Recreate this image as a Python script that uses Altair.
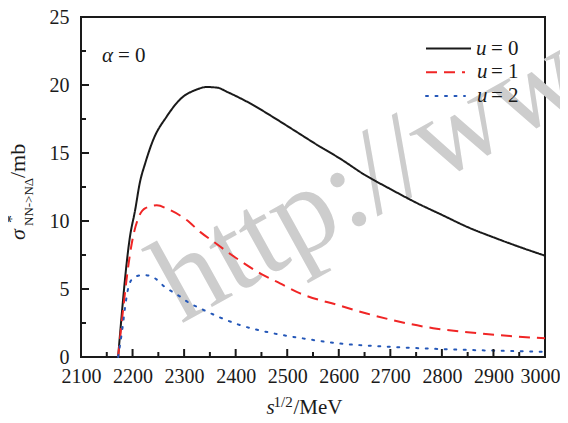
import altair as alt
import pandas as pd

# ---- data ----
x_u0 = [2172, 2195, 2205, 2214, 2225, 2240, 2266, 2298, 2320, 2344, 2365, 2383, 2428, 2470,
        2512, 2560, 2602, 2650, 2700, 2750, 2800, 2850, 2900, 2950, 3000]
y_u0 = [0, 8.85, 10.8, 12.8, 14.3, 15.96, 17.67, 19.14, 19.6, 19.85, 19.8, 19.5, 18.65, 17.7,
        16.7, 15.55, 14.6, 13.4, 12.35, 11.35, 10.45, 9.55, 8.8, 8.1, 7.45]

x_u1 = [2172, 2201, 2211, 2225, 2247, 2270, 2305, 2331, 2357, 2400, 2450, 2486, 2525, 2600,
        2654, 2700, 2783, 2850, 2913, 3000]
y_u1 = [0, 8.85, 10.2, 10.95, 11.15, 10.85, 10.07, 9.2, 8.48, 7.3, 6.1, 5.42, 4.68, 3.8,
        3.2, 2.75, 2.12, 1.82, 1.6, 1.37]

x_u2 = [2172, 2180, 2187, 2194, 2205, 2222, 2243, 2261, 2290, 2311, 2331, 2370, 2402, 2473,
        2525, 2600, 2700, 2800, 2900, 3000]
y_u2 = [0, 2.0, 4.07, 5.4, 5.9, 6.03, 5.8, 5.2, 4.5, 3.95, 3.58, 2.9, 2.43, 1.74,
        1.4, 1.0, 0.75, 0.58, 0.47, 0.38]

series_names = ["u = 0", "u = 1", "u = 2"]
series_values = ["0", "1", "2"]
series_colors = ["#1a1a1a", "#f02525", "#2457b8"]
series_dash = [[1, 0], [11, 7], [2, 7.5]]

x_major = list(range(2100, 3001, 100))
x_minor = list(range(2150, 3000, 100))
y_major = [0, 5, 10, 15, 20, 25]
y_minor = [2.5, 7.5, 12.5, 17.5, 22.5]

FONT = "Liberation Serif, Times New Roman, serif"
W, H = 464, 340

xs = alt.Scale(domain=[2100, 3000], nice=False, zero=False)
ys = alt.Scale(domain=[0, 25], nice=False)

rows = []
for name, xv, yv in [(series_names[0], x_u0, y_u0), (series_names[1], x_u1, y_u1),
                     (series_names[2], x_u2, y_u2)]:
    for a, b in zip(xv, yv):
        rows.append({"series": name, "x": a, "y": b})
df = pd.DataFrame(rows)


def txt(t, x, y, size, style="normal", angle=0, color="#1a1a1a"):
    kw = dict(font=FONT, fontSize=size, align="left", baseline="alphabetic", color=color)
    if style != "normal":
        kw["fontStyle"] = style
    if angle:
        kw["angle"] = angle
    return alt.Chart(pd.DataFrame({"t": [t]})).mark_text(**kw).encode(
        x=alt.value(x), y=alt.value(y), text="t:N")


layers = []

# watermark
layers.append(txt("http://www", 100, 307, 122, "normal", 331, "#cdcdcd"))

# axes (labels only; ticks drawn inward below)
base = alt.Chart(df).mark_point(opacity=0).encode(
    x=alt.X("x:Q", scale=xs, axis=alt.Axis(
        values=x_major, format="d", title=None, ticks=False, domain=False, grid=False,
        labelFont=FONT, labelFontSize=20, labelColor="#1a1a1a", labelPadding=9,
        labelFlush=False,
        labelOffset={"condition": {"test": "datum.value >= 3000", "value": -5}, "value": 0})),
    y=alt.Y("y:Q", scale=ys, axis=alt.Axis(
        values=y_major, format="d", title=None, ticks=False, domain=False, grid=False,
        labelFont=FONT, labelFontSize=20, labelColor="#1a1a1a", labelPadding=12,
        labelFlush=False)),
)
layers.append(base)

# curves
for name, col, dash in zip(series_names, series_colors, series_dash):
    layers.append(
        alt.Chart(df[df.series == name]).mark_line(
            color=col, strokeDash=dash, strokeWidth=2, interpolate="monotone",
            strokeCap="round" if name == "u = 2" else "butt"
        ).encode(x=alt.X("x:Q", scale=xs), y=alt.Y("y:Q", scale=ys))
    )

# inward ticks
layers.append(alt.Chart(pd.DataFrame({"v": x_major})).mark_rule(color="#1a1a1a", strokeWidth=2)
              .encode(x=alt.X("v:Q", scale=xs), y=alt.value(H), y2=alt.value(H - 8)))
layers.append(alt.Chart(pd.DataFrame({"v": x_minor})).mark_rule(color="#1a1a1a", strokeWidth=2)
              .encode(x=alt.X("v:Q", scale=xs), y=alt.value(H), y2=alt.value(H - 5)))
layers.append(alt.Chart(pd.DataFrame({"v": y_major})).mark_rule(color="#1a1a1a", strokeWidth=2)
              .encode(y=alt.Y("v:Q", scale=ys), x=alt.value(0), x2=alt.value(8)))
layers.append(alt.Chart(pd.DataFrame({"v": y_minor})).mark_rule(color="#1a1a1a", strokeWidth=2)
              .encode(y=alt.Y("v:Q", scale=ys), x=alt.value(0), x2=alt.value(5)))

# legend
for i, (val, col, dash) in enumerate(zip(series_values, series_colors, series_dash)):
    ly = 31.5 + 23.8 * i
    x2 = 390 if i == 0 else 384
    layers.append(alt.Chart(pd.DataFrame({"k": [val]})).mark_rule(
        color=col, strokeDash=dash, strokeWidth=2, strokeCap="round" if i == 2 else "butt")
        .encode(x=alt.value(345), x2=alt.value(x2), y=alt.value(ly)))
    tb = ly + 6
    layers.append(txt("u", 395 if i == 0 else 396, tb, 21, "italic"))
    layers.append(txt("= " + val, 410, tb, 21))

# alpha annotation
layers.append(txt("α", 21, 45, 21, "italic"))
layers.append(txt("= 0", 37, 45, 21))

# x title: s^{1/2}/MeV
layers.append(txt("s", 185.5, 397, 21, "italic"))
layers.append(txt("1/2", 192.5, 389.5, 15))
layers.append(txt("/MeV", 212.5, 397, 21))

# y title: sigma*_{NN->NΔ}/mb (rotated)
layers.append(txt("σ", -56, 223, 22, "italic", 270))
layers.append(txt("*", -64, 206, 16, "normal", 270))
layers.append(txt("NN->NΔ", -48, 209, 13, "normal", 270))
layers.append(txt("/mb", -56, 161, 22, "normal", 270))

chart = alt.layer(*layers).properties(
    width=W, height=H,
    autosize=alt.AutoSizeParams(type="none"),
    padding={"left": 73, "top": 9, "right": 15, "bottom": 58},
).configure_view(stroke="#1a1a1a", strokeWidth=2)

chart.save("out.html", embed_options={"renderer": "svg", "actions": False})
